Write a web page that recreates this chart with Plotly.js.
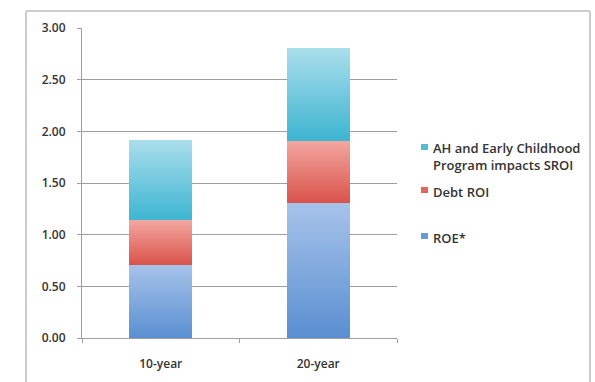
<!DOCTYPE html>
<html>
<head>
<meta charset="utf-8">
<script src="https://cdn.plot.ly/plotly-3.0.1.min.js"></script>
<style>
  html, body { margin: 0; padding: 0; background: #ffffff; }
  #wrap { position: relative; width: 595px; height: 382px; overflow: hidden; }
  #frame {
    position: absolute; left: 25px; top: 10px; width: 566px; height: 400px;
    border: 2px solid #cdcdcd; border-radius: 2px; box-sizing: border-box;
  }
  #chart { position: absolute; left: 0; top: 0; width: 595px; height: 382px; }
</style>
</head>
<body>
<div id="wrap">
  <div id="frame"></div>
  <div id="chart"></div>
</div>
<script>
// Horizons
const categories = ['10-year', '20-year'];

// Stacked return components
const roe = [0.71, 1.31];
const debtRoi = [0.43, 0.60];
const ahSroi = [0.78, 0.90];

const seriesNames = ['ROE*', 'Debt ROI', 'AH and Early Childhood<br>Program impacts SROI'];

// Vertical gradient stops (top, bottom) and flat key colours per series
const gradients = [
  ['#a7c3ea', '#5a8fd1'],
  ['#f3a7a1', '#d9544b'],
  ['#abdeec', '#3db5d1']
];
const keyColors = ['#6a9ad5', '#e2655b', '#4fbdd6'];

const W = 595, H = 382;
const M = { l: 82, r: 198, t: 28, b: 44 };
const plotW = W - M.l - M.r, plotH = H - M.t - M.b;
const px2x = px => (px - M.l) / plotW;
const px2y = py => (H - M.b - py) / plotH;

const font = 'Open Sans, Liberation Sans, sans-serif';
const textColor = '#333333';

const values = [roe, debtRoi, ahSroi];
const traces = values.map((v, i) => ({
  type: 'bar',
  name: seriesNames[i],
  x: categories,
  y: v,
  marker: { color: keyColors[i], line: { width: 0 } },
  hoverinfo: 'skip'
}));

// Key: small squares plus labels to the right of the plot
const keyRows = [
  { text: seriesNames[2], y: 156, sq: 147, color: keyColors[2] },
  { text: seriesNames[1], y: 192, sq: 190, color: keyColors[1] },
  { text: seriesNames[0], y: 238, sq: 236, color: keyColors[0] }
];
const annotations = keyRows.map(r => ({
  xref: 'paper', yref: 'paper',
  x: px2x(431), y: px2y(r.y),
  xanchor: 'left', yanchor: 'middle', align: 'left',
  showarrow: false,
  text: r.text,
  font: { family: font, size: 13, color: textColor, weight: 600 }
}));
const shapes = keyRows.map(r => ({
  type: 'rect', xref: 'paper', yref: 'paper',
  x0: px2x(421), x1: px2x(428),
  y0: px2y(r.sq + 3), y1: px2y(r.sq - 3),
  fillcolor: r.color, line: { width: 0 }
}));

const tickFont = { family: font, size: 12, color: textColor, weight: 600 };

const layout = {
  width: W, height: H,
  margin: M,
  barmode: 'stack',
  bargap: 0.6,
  showlegend: false,
  paper_bgcolor: 'rgba(0,0,0,0)',
  plot_bgcolor: 'rgba(0,0,0,0)',
  font: { family: font, size: 12, color: textColor },
  xaxis: {
    type: 'category',
    showline: true, linecolor: '#9e9e9e', linewidth: 1,
    ticks: 'outside', tickson: 'boundaries', ticklen: 4, tickcolor: '#9e9e9e',
    ticklabelstandoff: 15,
    showgrid: false,
    tickfont: tickFont
  },
  yaxis: {
    range: [0, 3],
    dtick: 0.5,
    tickformat: '.2f',
    showline: true, linecolor: '#9e9e9e', linewidth: 1,
    ticks: 'outside', ticklen: 4, tickcolor: '#9e9e9e',
    showgrid: true, gridcolor: '#9e9e9e', gridwidth: 1,
    zeroline: false,
    ticklabelstandoff: 9,
    tickfont: tickFont
  },
  annotations: annotations,
  shapes: shapes
};

Plotly.newPlot('chart', traces, layout, { staticPlot: true, displayModeBar: false }).then(gd => {
  // Replace flat fills with vertical gradients on each bar segment
  const svg = gd.querySelector('.main-svg');
  const ns = 'http://www.w3.org/2000/svg';
  let defs = svg.querySelector('defs');
  if (!defs) { defs = document.createElementNS(ns, 'defs'); svg.insertBefore(defs, svg.firstChild); }
  gradients.forEach((g, i) => {
    const lg = document.createElementNS(ns, 'linearGradient');
    lg.setAttribute('id', 'barGrad' + i);
    lg.setAttribute('x1', '0'); lg.setAttribute('y1', '0');
    lg.setAttribute('x2', '0'); lg.setAttribute('y2', '1');
    [[0, g[0]], [1, g[1]]].forEach(([o, c]) => {
      const st = document.createElementNS(ns, 'stop');
      st.setAttribute('offset', String(o));
      st.setAttribute('stop-color', c);
      lg.appendChild(st);
    });
    defs.appendChild(lg);
  });
  gd.querySelectorAll('.barlayer .trace').forEach((tr, i) => {
    tr.querySelectorAll('.point path').forEach(p => { p.style.fill = 'url(#barGrad' + i + ')'; });
  });
});
</script>
</body>
</html>
